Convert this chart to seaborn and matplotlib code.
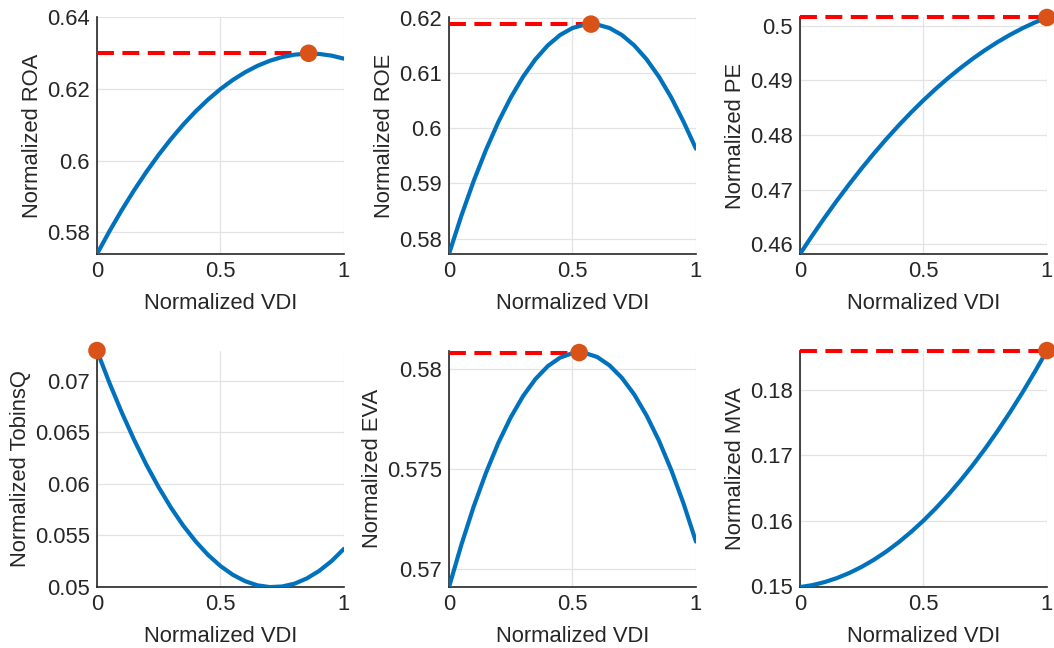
import matplotlib
matplotlib.use("Agg")
import matplotlib.pyplot as plt
import matplotlib.ticker as mticker
import numpy as np
import pandas as pd
import seaborn as sns

# Normalized VDI grid
vdi = [0.00, 0.05, 0.10, 0.15, 0.20, 0.25, 0.30, 0.35, 0.40, 0.45, 0.50,
       0.55, 0.60, 0.65, 0.70, 0.75, 0.80, 0.85, 0.90, 0.95, 1.00]

roa = [0.57390, 0.58020, 0.58613, 0.59168, 0.59685, 0.60165, 0.60607, 0.61012, 0.61379, 0.61708, 0.62000,
       0.62254, 0.62471, 0.62650, 0.62791, 0.62895, 0.62961, 0.62990, 0.62981, 0.62934, 0.62850]
roe = [0.57721, 0.58414, 0.59045, 0.59612, 0.60117, 0.60558, 0.60936, 0.61252, 0.61504, 0.61693, 0.61819,
       0.61882, 0.61882, 0.61819, 0.61693, 0.61504, 0.61252, 0.60936, 0.60558, 0.60117, 0.59630]
pe = [0.45820, 0.46160, 0.46487, 0.46801, 0.47102, 0.47390, 0.47665, 0.47927, 0.48176, 0.48412, 0.48635,
      0.48845, 0.49042, 0.49226, 0.49397, 0.49555, 0.49700, 0.49832, 0.49951, 0.50057, 0.50150]
tobinsq = [0.07290, 0.06980, 0.06693, 0.06428, 0.06185, 0.05966, 0.05768, 0.05593, 0.05441, 0.05311, 0.05204,
           0.05119, 0.05057, 0.05017, 0.05000, 0.05006, 0.05033, 0.05084, 0.05157, 0.05252, 0.05370]
eva = [0.56910, 0.57121, 0.57312, 0.57481, 0.57630, 0.57757, 0.57863, 0.57948, 0.58012, 0.58055, 0.58077,
       0.58078, 0.58058, 0.58016, 0.57954, 0.57871, 0.57766, 0.57641, 0.57494, 0.57326, 0.57137]
mva = [0.14980, 0.15010, 0.15057, 0.15119, 0.15197, 0.15291, 0.15401, 0.15527, 0.15669, 0.15827, 0.16000,
       0.16190, 0.16395, 0.16616, 0.16853, 0.17106, 0.17375, 0.17660, 0.17961, 0.18278, 0.18610]

# Optimal VDI per metric
opt_x = [0.857, 0.575, 1.0, 0.0, 0.527, 1.0]
opt_y = [0.6300, 0.6189, 0.5015, 0.0729, 0.5808, 0.1861]

metrics = ["ROA", "ROE", "PE", "TobinsQ", "EVA", "MVA"]
series = [roa, roe, pe, tobinsq, eva, mva]
ylims = [(0.5739, 0.64), (0.5772, 0.6201), (0.4582, 0.5015), (0.05, 0.0729), (0.5691, 0.5809), (0.1498, 0.1861)]
yticks = [[0.58, 0.60, 0.62, 0.64], [0.58, 0.59, 0.60, 0.61, 0.62], [0.46, 0.47, 0.48, 0.49, 0.50],
          [0.05, 0.055, 0.06, 0.065, 0.07], [0.57, 0.575, 0.58], [0.15, 0.16, 0.17, 0.18]]

sns.set_style("white")
plt.rcParams["font.family"] = ["Liberation Sans", "DejaVu Sans"]
fs = 15.8

fig = plt.figure(figsize = (10.54, 6.48), dpi = 100)
lefts = [0.092, 0.426, 0.759]
bottoms = [0.608, 0.094]
w, h = 0.2343, 0.365

txt = "#262626"
for i, (name, vals) in enumerate(zip(metrics, series)):
	ax = fig.add_axes([lefts[i % 3], bottoms[i // 3], w, h])
	df = pd.DataFrame({ "vdi": vdi, "val": vals })
	# dashed line to optimum
	if opt_x[i] > 0:
		sns.lineplot(x = [0.0, opt_x[i]], y = [opt_y[i], opt_y[i]], ax = ax, color = "#FF0000",
			linewidth = 2.9, dashes = False, linestyle = (0, (4.2, 2.1)), clip_on = False, zorder = 3)
	sns.lineplot(x = "vdi", y = "val", data = df, ax = ax, color = "#0072BD", linewidth = 3.0, zorder = 4)
	sns.scatterplot(x = [opt_x[i]], y = [opt_y[i]], ax = ax, color = "#D95319", s = 160,
		edgecolor = "none", clip_on = False, zorder = 5)
	ax.set_xlim(0, 1)
	ax.set_ylim(*ylims[i])
	ax.set_xticks([0, 0.5, 1])
	ax.set_yticks(yticks[i])
	ax.xaxis.set_major_formatter(mticker.FuncFormatter(lambda v, p: "%g" % round(v, 4)))
	ax.yaxis.set_major_formatter(mticker.FuncFormatter(lambda v, p: "%g" % round(v, 4)))
	ax.grid(True, color = "#e3e3e3", linewidth = 0.9)
	ax.set_axisbelow(True)
	for s in ["top", "right"]:
		ax.spines[s].set_visible(False)
	for s in ["left", "bottom"]:
		ax.spines[s].set_color(txt)
		ax.spines[s].set_linewidth(1.2)
	ax.tick_params(direction = "in", length = 4, width = 1.0, colors = txt, labelsize = fs, pad = 5)
	ax.set_xlabel("Normalized VDI", fontsize = fs, color = txt, labelpad = 8)
	ax.set_ylabel("Normalized " + name, fontsize = fs, color = txt, labelpad = 3)

plt.savefig("out.png", dpi = 100)
plt.close()
